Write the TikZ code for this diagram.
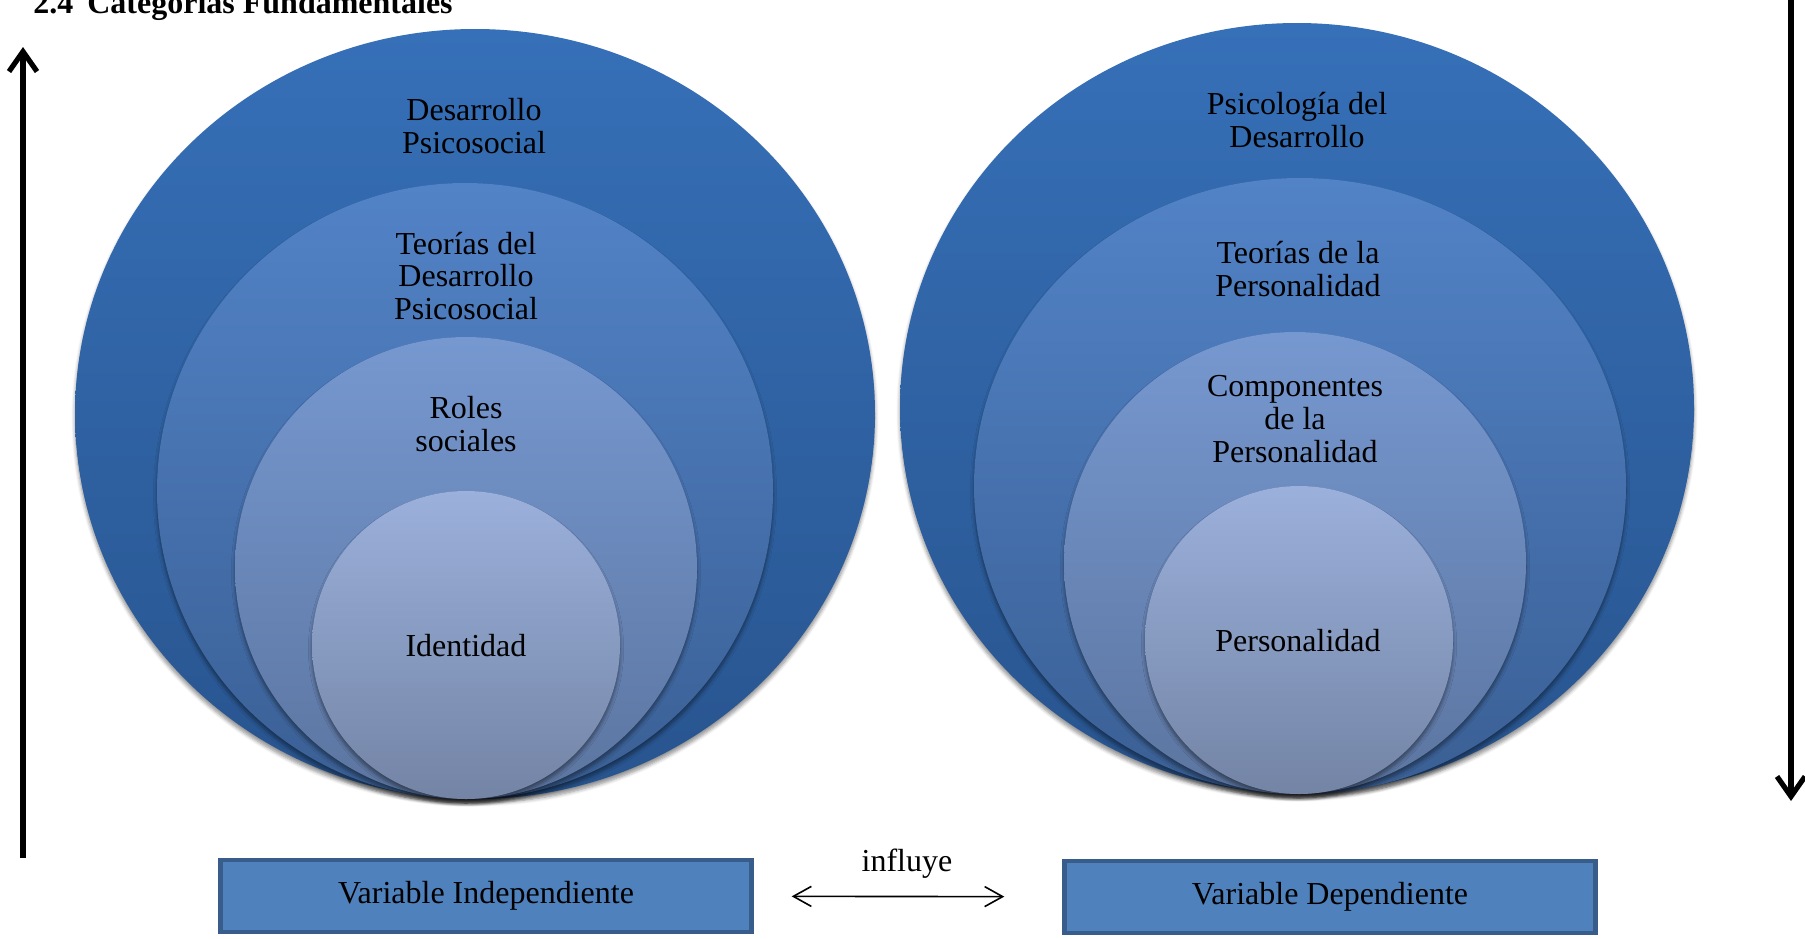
\documentclass[tikz,border=0pt]{standalone}
\usepackage{fontspec}
\setmainfont{Liberation Serif}
\usetikzlibrary{arrows.meta,shadows.blur}
\definecolor{bordecaja}{RGB}{56,93,138}
\definecolor{rellenocaja}{RGB}{79,129,189}
\definecolor{anilloAarriba}{RGB}{54,112,184}
\definecolor{anilloAabajo}{RGB}{40,84,142}
\definecolor{anilloBarriba}{RGB}{82,131,199}
\definecolor{anilloBabajo}{RGB}{58,95,148}
\definecolor{anilloCarriba}{RGB}{118,152,208}
\definecolor{anilloCabajo}{RGB}{92,117,160}
\definecolor{anilloDarriba}{RGB}{155,176,219}
\definecolor{anilloDabajo}{RGB}{115,132,165}
\tikzset{
anillo/.style={
	  top color=anillo#1arriba, bottom color=anillo#1abajo, draw=none,
	    blur shadow={shadow xshift=0pt, shadow yshift=-2pt,
    shadow blur steps=6, shadow opacity=45}},
etiqueta/.style={align=center, inner sep=0pt,
	font=\fontsize{16}{16.4}\selectfont},
caja/.style={draw=bordecaja, line width=2.2pt, fill=rellenocaja,
	minimum width=265.5pt, minimum height=36pt, inner sep=0pt,
	font=\fontsize{16}{16.4}\selectfont},
flecha/.style={line width=2.6pt, -{Straight Barb[length=10pt,width=14pt]}}
}

\begin{document}
\begin{tikzpicture}[x=0.5pt, y=-0.5pt]
	\useasboundingbox (0,0) rectangle (1805,938);
	\node[anchor=base west, inner sep=0pt, font=\fontsize{16}{16}\bfseries\selectfont]
		(titulo) at (33,13) {2.4\hspace{7pt}Categorías Fundamentales};

	\path[anillo=A] (475,414) ellipse [x radius=400, y radius=385];
	\path[anillo=B] (465,491) circle [radius=308];
	\path[anillo=C] (466,568) circle [radius=231];
	\path[anillo=D] (466,645) circle [radius=154];
	\node[etiqueta] (desarrollo) at (474,126) {Desarrollo\\Psicosocial};
	\node[etiqueta] (teorias) at (466,276) {Teorías del\\Desarrollo\\Psicosocial};
	\node[etiqueta] (roles) at (466,424) {Roles\\sociales};
	\node[etiqueta] (identidad) at (466,646) {Identidad};

	\path[anillo=A] (1297,408) ellipse [x radius=397, y radius=385];
	\path[anillo=B] (1300,486) ellipse [x radius=326, y radius=308];
	\path[anillo=C] (1295,563) circle [radius=231];
	\path[anillo=D] (1299,640) circle [radius=154];
	\node[etiqueta] (psicologia) at (1297,120) {Psicología del\\Desarrollo};
	\node[etiqueta] (teoriaspers) at (1298,269) {Teorías de la\\Personalidad};
	\node[etiqueta] (componentes) at (1295,419) {Componentes\\de la\\Personalidad};
	\node[etiqueta] (personalidad) at (1298,641) {Personalidad};

	\node[caja] (independiente) at (486,896) {Variable Independiente};
	\node[caja] (dependiente) at (1330,897) {Variable Dependiente};
	\draw[line width=0.8pt, {Straight Barb[length=9pt,width=10pt]}-{Straight Barb[length=9pt,width=10pt]},
		shorten <=19pt, shorten >=29pt] (independiente) -- (dependiente);
	\node[etiqueta] (influye) at (907,864) {influye};

	\coordinate (izqabajo) at (23,858);
	\coordinate (izqarriba) at (23,47);
	\coordinate (derarriba) at (1791,-5);
	\coordinate (derabajo) at (1791,801);
	\draw[flecha] (izqabajo) -- (izqarriba);
	\draw[flecha] (derarriba) -- (derabajo);
\end{tikzpicture}
\end{document}
